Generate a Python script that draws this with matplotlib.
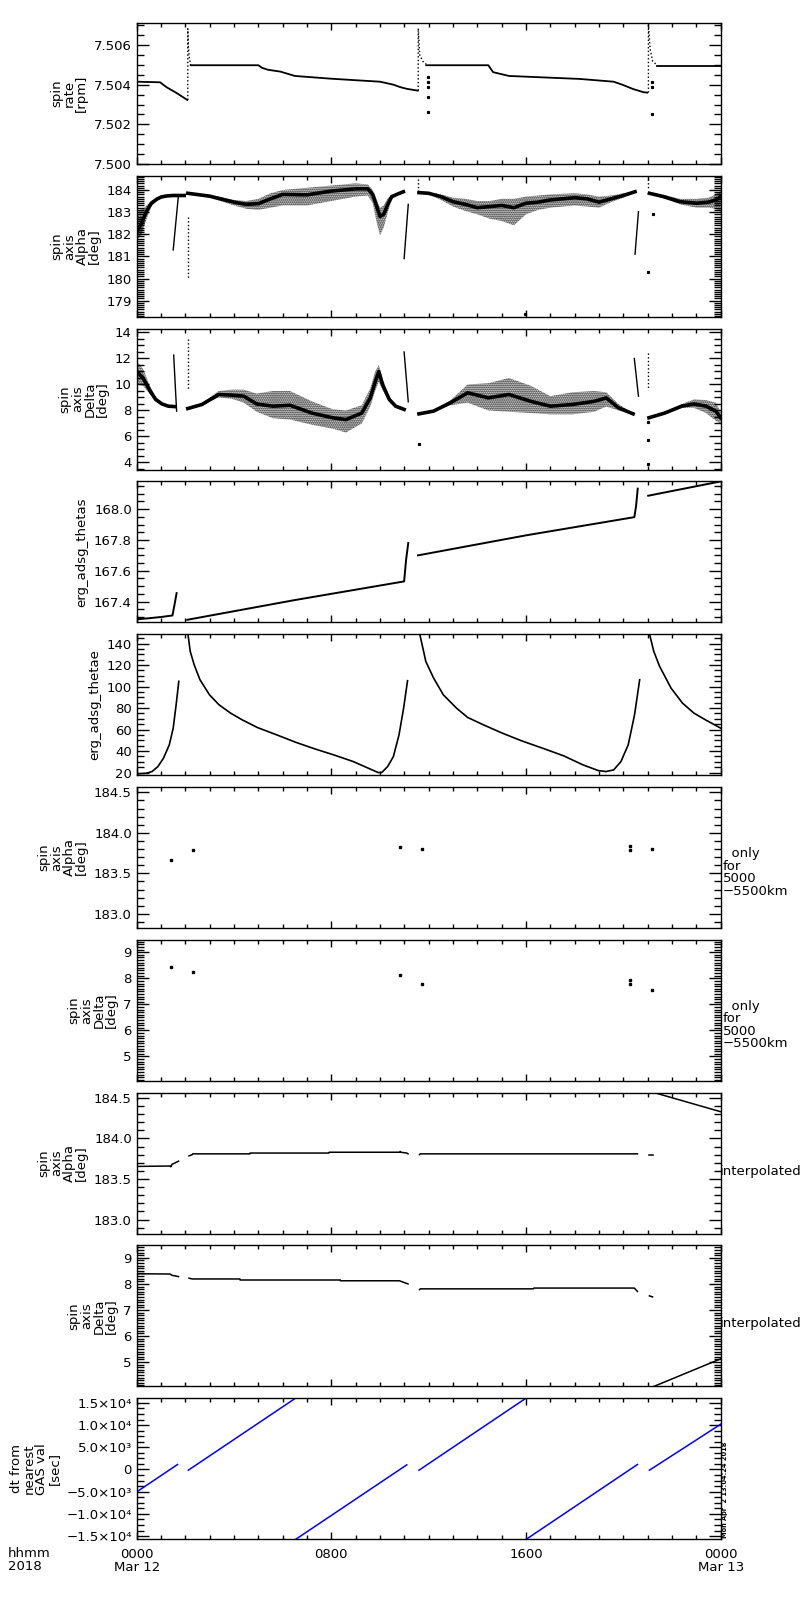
import matplotlib
matplotlib.use('Agg')
import matplotlib.pyplot as plt
from matplotlib.ticker import MultipleLocator, FormatStrFormatter, FuncFormatter

plt.rcParams['font.family'] = ['DejaVu Sans']
plt.rcParams['font.size'] = 9.5
plt.rcParams['hatch.linewidth'] = 1.0

# time axis is hours from 2018-03-12 0000

# spin rate [rpm]
rate_seg_h = [[0, 0.96, 1.23, 1.64, 2.08],
              [2.22, 5.0, 5.15, 5.4, 5.9, 6.5, 8.0, 10.0, 10.55, 10.82, 11.1, 11.55],
              [11.9, 14.45, 14.55, 14.65, 15.3, 18.2, 19.6, 20.0, 20.4, 20.83, 20.98],
              [21.37, 24.0]]
rate_seg_v = [[7.50415, 7.50412, 7.50387, 7.50358, 7.50323],
              [7.50498, 7.50498, 7.50485, 7.50475, 7.50466, 7.50444, 7.5043, 7.50415, 7.5040, 7.50388, 7.50379, 7.5037],
              [7.50498, 7.50498, 7.5048, 7.50463, 7.50444, 7.50429, 7.50415, 7.50398, 7.50378, 7.50362, 7.5036],
              [7.50496, 7.50496]]
rate_spike_h = [[2.1, 2.1, 2.13, 2.17, 2.22],
                [11.57, 11.57, 11.63, 11.77, 11.9],
                [21.03, 21.03, 21.1, 21.2, 21.37]]
rate_spike_v = [[7.50323, 7.50682, 7.5058, 7.5053, 7.5050],
                [7.5037, 7.50684, 7.5055, 7.50516, 7.50503],
                [7.5036, 7.50701, 7.5058, 7.5052, 7.50499]]
rate_dot_h = [11.98, 11.98, 11.98, 11.98, 11.98, 21.19, 21.19, 21.19]
rate_dot_v = [7.5044, 7.50415, 7.5039, 7.5034, 7.50261, 7.50415, 7.5039, 7.50251]

# spin axis Alpha [deg]: noisy segments (middle, low edge, high edge)
alpha_seg_h = [[0, 0.2, 0.41, 0.6, 0.82, 1.0, 1.23, 1.5, 1.95],
               [2.1, 3.0, 4.0, 4.5, 5.0, 5.5, 6.0, 7.0, 8.0, 9.0, 9.5, 9.7, 9.85, 10.0, 10.15, 10.3, 10.48, 10.8, 10.96],
               [11.6, 12.0, 12.5, 13.0, 13.5, 14.0, 14.5, 15.0, 15.5, 16.0, 16.5, 17.0, 18.0, 18.5, 19.0, 19.5, 20.0, 20.48],
               [21.07, 21.65, 22.33, 23.0, 23.5, 23.8, 24.0]]
alpha_seg_mid = [[182.1, 182.5, 183.05, 183.4, 183.58, 183.68, 183.73, 183.75, 183.75],
                 [183.85, 183.72, 183.45, 183.35, 183.38, 183.6, 183.8, 183.78, 183.95, 184.05, 184.05, 183.8, 183.3, 182.8, 182.9, 183.3, 183.7, 183.85, 183.92],
                 [183.88, 183.85, 183.7, 183.47, 183.35, 183.2, 183.25, 183.3, 183.2, 183.4, 183.45, 183.55, 183.65, 183.6, 183.45, 183.6, 183.75, 183.92],
                 [183.85, 183.7, 183.47, 183.4, 183.45, 183.55, 183.7]]
alpha_seg_lo = [[181.7, 182.0, 182.7, 183.25, 183.5, 183.63, 183.7, 183.72, 183.72],
                [183.83, 183.65, 183.3, 183.15, 183.1, 183.2, 183.3, 183.3, 183.5, 183.7, 183.75, 183.4, 182.6, 181.95, 182.3, 182.9, 183.6, 183.8, 183.88],
                [183.86, 183.8, 183.55, 183.25, 183.05, 182.9, 182.7, 182.6, 182.4, 182.9, 183.1, 183.2, 183.3, 183.25, 183.2, 183.45, 183.65, 183.88],
                [183.82, 183.62, 183.35, 183.2, 183.2, 183.15, 183.0]]
alpha_seg_hi = [[183.0, 183.1, 183.3, 183.5, 183.65, 183.73, 183.77, 183.78, 183.78],
                [183.87, 183.78, 183.55, 183.5, 183.6, 183.85, 184.0, 184.1, 184.2, 184.3, 184.25, 184.0, 183.6, 183.2, 183.3, 183.6, 183.78, 183.88, 183.95],
                [183.9, 183.88, 183.8, 183.65, 183.6, 183.5, 183.5, 183.6, 183.6, 183.7, 183.75, 183.8, 183.85, 183.8, 183.7, 183.75, 183.85, 183.95],
                [183.88, 183.78, 183.6, 183.6, 183.65, 183.8, 183.95]]
alpha_steep_h = [[1.5, 1.71], [10.99, 11.16], [20.48, 20.62]]
alpha_steep_v = [[181.29, 183.7], [180.9, 183.35], [181.1, 183.02]]
alpha_spike_h = [[2.1, 2.1], [11.57, 11.57], [21.03, 21.03]]
alpha_spike_v = [[182.8, 180.0], [184.5, 183.9], [184.5, 184.0]]
alpha_dot_h = [15.96, 21.03, 21.2]
alpha_dot_v = [178.4, 180.3, 182.9]

# spin axis Delta [deg]
delta_seg_h = [[0, 0.26, 0.52, 0.78, 1.04, 1.3, 1.56],
               [2.1, 2.68, 3.37, 3.9, 4.4, 4.93, 5.6, 6.3, 7.2, 8.05, 8.6, 9.25, 9.6, 9.8, 9.95, 10.1, 10.38, 10.64, 10.99],
               [11.6, 12.2, 12.9, 13.6, 14.45, 15.3, 16.2, 17.0, 17.9, 18.8, 19.3, 19.8, 20.4],
               [21.05, 21.7, 22.4, 22.9, 23.4, 23.8, 24.0]]
delta_seg_mid = [[11.0, 10.5, 9.6, 8.85, 8.5, 8.33, 8.3],
                 [8.15, 8.46, 9.23, 9.18, 9.1, 8.5, 8.33, 8.4, 7.8, 7.44, 7.3, 7.8, 8.97, 10.2, 11.0, 10.0, 8.85, 8.33, 8.08],
                 [7.74, 7.95, 8.6, 9.36, 8.97, 9.23, 8.7, 8.33, 8.46, 8.7, 8.97, 8.2, 7.74],
                 [7.44, 7.8, 8.33, 8.5, 8.33, 7.95, 7.44]]
delta_seg_lo = [[10.0, 9.9, 9.3, 8.7, 8.4, 8.28, 8.25],
                [8.1, 8.4, 9.0, 8.9, 8.6, 7.9, 7.4, 7.3, 6.9, 6.6, 6.3, 7.0, 8.3, 9.5, 10.2, 9.6, 8.7, 8.28, 8.05],
                [7.7, 7.9, 8.4, 8.6, 8.0, 7.9, 7.8, 7.7, 7.7, 7.9, 8.3, 8.0, 7.7],
                [7.4, 7.75, 8.2, 8.2, 7.8, 7.2, 7.0]]
delta_seg_hi = [[11.8, 11.2, 10.0, 9.0, 8.6, 8.38, 8.35],
                [8.2, 8.55, 9.5, 9.6, 9.6, 9.3, 9.5, 9.5, 8.7, 8.1, 8.0, 8.4, 9.7, 11.0, 11.5, 10.5, 9.0, 8.38, 8.1],
                [7.78, 8.0, 8.8, 10.0, 10.1, 10.5, 9.9, 9.1, 9.4, 9.5, 9.4, 8.5, 7.78],
                [7.5, 7.9, 8.5, 8.85, 8.8, 8.6, 7.9]]
delta_steep_h = [[1.52, 1.64], [10.99, 11.16], [20.45, 20.62]]
delta_steep_v = [[12.26, 7.95], [12.5, 8.67], [12.0, 9.1]]
delta_spike_h = [[2.1, 2.1], [21.0, 21.0]]
delta_spike_v = [[13.5, 9.6], [12.4, 9.6]]
delta_dot_h = [11.6, 21.0, 21.0, 21.0]
delta_dot_v = [5.4, 7.1, 5.7, 3.9]

# erg_adsg_thetas
thetas_seg_h = [[0, 0.5, 1.0, 1.47, 1.56, 1.64],
                [2.08, 6.5, 10.99, 11.07, 11.16],
                [11.56, 16.0, 20.45, 20.52, 20.59],
                [21.02, 24.0]]
thetas_seg_v = [[167.285, 167.292, 167.30, 167.31, 167.385, 167.455],
                [167.282, 167.41, 167.531, 167.67, 167.78],
                [167.70, 167.83, 167.948, 168.017, 168.133],
                [168.087, 168.18]]

# erg_adsg_thetae
thetae_seg_h = [[0, 0.39, 0.63, 0.87, 1.10, 1.34, 1.5, 1.62, 1.73],
                [2.07, 2.2, 2.36, 2.6, 2.99, 3.38, 3.86, 4.33, 4.96, 5.75, 6.53, 7.32, 8.1, 8.9, 9.52, 9.92, 10.07, 10.31, 10.55, 10.78, 10.97, 11.13],
                [11.57, 11.73, 11.88, 12.2, 12.6, 13.14, 13.6, 14.25, 15.03, 15.82, 16.76, 17.55, 18.34, 18.97, 19.28, 19.6, 19.9, 20.2, 20.46, 20.67],
                [21.01, 21.25, 21.49, 21.96, 22.43, 22.9, 23.37, 24.0]]
thetae_seg_v = [[18.7, 19.3, 20.9, 25.5, 33.3, 45.8, 61.3, 83, 104.9],
                [155, 132.8, 120.4, 106.4, 92.4, 83.1, 75.3, 69.1, 61.9, 55.1, 48.2, 42.0, 36.4, 30.2, 24.0, 20.0, 20.0, 25.5, 34.9, 55.1, 80, 105.5],
                [155, 139, 123.5, 108, 92.4, 80, 71.3, 64.4, 56.6, 49.5, 42, 35.5, 27.1, 21.8, 20.9, 22.4, 30.2, 45.8, 73.8, 106.4],
                [155, 132.8, 118.8, 98.6, 84.6, 75.3, 69.1, 61.3]]

# spin axis only for 5000-5500 km
near_h = [1.40, 2.30, 10.83, 11.74, 20.27, 20.27, 21.19]
near_alpha = [183.66, 183.785, 183.82, 183.80, 183.84, 183.79, 183.80]
near_delta = [8.42, 8.25, 8.14, 7.80, 7.93, 7.80, 7.54]

# interpolated spin axis
interp_alpha_h = [[0, 1.37, 1.40, 1.45, 1.72],
                  [2.15, 2.28, 2.3, 4.65, 4.66, 7.9, 7.91, 10.8, 10.83, 10.86, 11.1, 11.15],
                  [11.62, 11.65, 20.5, 20.58],
                  [21.07, 21.2],
                  [21.1, 24.0]]
interp_alpha_v = [[183.655, 183.66, 183.65, 183.68, 183.72],
                  [183.785, 183.80, 183.81, 183.81, 183.82, 183.82, 183.83, 183.83, 183.84, 183.83, 183.82, 183.81],
                  [183.80, 183.81, 183.81, 183.81],
                  [183.79, 183.79],
                  [184.58, 184.33]]
interp_delta_h = [[0, 1.37, 1.45, 1.72],
                  [2.15, 2.28, 4.24, 4.25, 8.37, 8.38, 10.8, 11.0, 11.15],
                  [11.62, 11.66, 16.3, 16.32, 20.45, 20.58],
                  [21.07, 21.2],
                  [21.1, 24.0]]
interp_delta_v = [[8.39, 8.38, 8.33, 8.28],
                  [8.22, 8.19, 8.19, 8.15, 8.15, 8.12, 8.12, 8.05, 8.0],
                  [7.78, 7.81, 7.81, 7.84, 7.84, 7.71],
                  [7.54, 7.50],
                  [4.0, 5.12]]

# dt from nearest GAS val [sec]
dt_seg_h = [[0, 1.68], [2.12, 6.55], [6.53, 11.1], [11.6, 16.02], [16.0, 20.58], [21.07, 24.0]]
dt_seg_v = [[-5050, 1130], [-160, 16150], [-15750, 1050], [-160, 16150], [-15750, 1130], [-160, 10200]]
dt_labels = {15000: '1.5×10⁴', 10000: '1.0×10⁴', 5000: '5.0×10³', 0: '0',
             -5000: '−5.0×10³', -10000: '−1.0×10⁴', -15000: '−1.5×10⁴'}

# figure and panel frames (pixel layout of the original 800x1600 page)
fig = plt.figure(figsize=(8, 16), dpi=100)
W, H = 800.0, 1600.0
left_px, right_px = 136.7, 720.7


def make_axes(i):
    top = 23 + 152.8 * i
    return fig.add_axes([left_px / W, 1 - (top + 141) / H, (right_px - left_px) / W, 141 / H])


def style_axes(ax, ylim, major, minor, fmt, label):
    ax.set_xlim(0, 24)
    ax.set_ylim(*ylim)
    ax.xaxis.set_major_locator(MultipleLocator(8))
    ax.xaxis.set_minor_locator(MultipleLocator(1))
    ax.yaxis.set_major_locator(MultipleLocator(major))
    ax.yaxis.set_minor_locator(MultipleLocator(minor))
    if fmt is not None:
        ax.yaxis.set_major_formatter(FormatStrFormatter(fmt))
    ax.tick_params(which='both', direction='in', top=True, right=True, width=1)
    ax.tick_params(axis='y', which='major', length=8.6, pad=3.5)
    ax.tick_params(axis='y', which='minor', length=5)
    ax.tick_params(axis='x', which='major', length=5, labelbottom=False)
    ax.tick_params(axis='x', which='minor', length=3)
    for s in ax.spines.values():
        s.set_linewidth(1)
    ax.set_ylabel(label, linespacing=0.95, labelpad=4)


def lines(ax, hs, vs, color='k', lw=1.0, ls='-'):
    for h, v in zip(hs, vs):
        ax.plot(h, v, color=color, lw=lw, ls=ls)


def bands(ax, hs, mids, los, his):
    # scattered noisy samples: stippled envelope plus a dense core
    for h, m, lo, hi in zip(hs, mids, los, his):
        ax.fill_between(h, lo, hi, facecolor='none', edgecolor='k', hatch='........', linewidth=0)
        ax.plot(h, m, color='k', lw=2.6)


axes = [make_axes(i) for i in range(10)]

# 1 spin rate
ax = axes[0]
lines(ax, rate_seg_h, rate_seg_v, lw=1.3)
lines(ax, rate_spike_h, rate_spike_v, lw=1.0, ls=':')
ax.plot(rate_dot_h, rate_dot_v, 's', color='k', ms=1.3)
style_axes(ax, (7.500, 7.50711), 0.002, 0.0005, '%.3f', 'spin\nrate\n[rpm]')

# 2 spin axis alpha
ax = axes[1]
bands(ax, alpha_seg_h, alpha_seg_mid, alpha_seg_lo, alpha_seg_hi)
lines(ax, alpha_steep_h, alpha_steep_v)
lines(ax, alpha_spike_h, alpha_spike_v, ls=':')
ax.plot(alpha_dot_h, alpha_dot_v, 's', color='k', ms=1.3)
style_axes(ax, (178.27, 184.64), 1, 0.1, '%d', 'spin\naxis\nAlpha\n[deg]')

# 3 spin axis delta
ax = axes[2]
bands(ax, delta_seg_h, delta_seg_mid, delta_seg_lo, delta_seg_hi)
lines(ax, delta_steep_h, delta_steep_v)
lines(ax, delta_spike_h, delta_spike_v, ls=':')
ax.plot(delta_dot_h, delta_dot_v, 's', color='k', ms=1.3)
style_axes(ax, (3.45, 14.3), 2, 0.5, '%d', 'spin\naxis\nDelta\n[deg]')

# 4 thetas
ax = axes[3]
lines(ax, thetas_seg_h, thetas_seg_v, lw=1.4)
style_axes(ax, (167.265, 168.18), 0.2, 0.05, '%.1f', 'erg_adsg_thetas')

# 5 thetae
ax = axes[4]
lines(ax, thetae_seg_h, thetae_seg_v, lw=1.2)
style_axes(ax, (17.5, 148.8), 20, 5, '%d', 'erg_adsg_thetae')

# 6, 7 only for 5000-5500km
ax = axes[5]
ax.plot(near_h, near_alpha, 's', color='k', ms=1.6)
style_axes(ax, (182.826, 184.566), 0.5, 0.1, '%.1f', 'spin\naxis\nAlpha\n[deg]')
ax.text(1.004, 0.394, '  only\nfor\n5000\n−5500km', transform=ax.transAxes,
        ha='left', va='center', linespacing=0.95)

ax = axes[6]
ax.plot(near_h, near_delta, 's', color='k', ms=1.6)
style_axes(ax, (4.06, 9.48), 1, 0.1, '%d', 'spin\naxis\nDelta\n[deg]')
ax.text(1.004, 0.394, '  only\nfor\n5000\n−5500km', transform=ax.transAxes,
        ha='left', va='center', linespacing=0.95)

# 8, 9 interpolated
ax = axes[7]
lines(ax, interp_alpha_h, interp_alpha_v, lw=1.1)
style_axes(ax, (182.826, 184.566), 0.5, 0.1, '%.1f', 'spin\naxis\nAlpha\n[deg]')
ax.text(0.999, 0.443, 'interpolated', transform=ax.transAxes, ha='left', va='center')

ax = axes[8]
lines(ax, interp_delta_h, interp_delta_v, lw=1.1)
style_axes(ax, (4.06, 9.48), 1, 0.1, '%d', 'spin\naxis\nDelta\n[deg]')
ax.text(0.999, 0.443, 'interpolated', transform=ax.transAxes, ha='left', va='center')

# 10 dt from nearest GAS value
ax = axes[9]
lines(ax, dt_seg_h, dt_seg_v, color='#0000ff', lw=1.1)
style_axes(ax, (-15700, 16060), 5000, 1250, None, 'dt from\nnearest\nGAS val\n[sec]')
ax.yaxis.set_major_formatter(FuncFormatter(lambda v, p: dt_labels.get(int(round(v)), '')))
ax.set_xticks([0, 8, 16, 24])
ax.set_xticklabels(['0000\nMar 12', '0800', '1600', '0000\nMar 13'])
ax.tick_params(axis='x', which='major', labelbottom=True, pad=6.5)
for t in ax.get_xticklabels():
    t.set_linespacing(0.95)

fig.text(8 / W, 1 - 1547 / H, 'hhmm\n2018', ha='left', va='top', linespacing=0.95)
fig.text(725 / W, 1 - 1538 / H, 'Mon Apr  2 13:04:24 2018', rotation=90,
         ha='center', va='bottom', fontsize=4.8, fontweight='bold')

fig.savefig('out.png', dpi=100)
